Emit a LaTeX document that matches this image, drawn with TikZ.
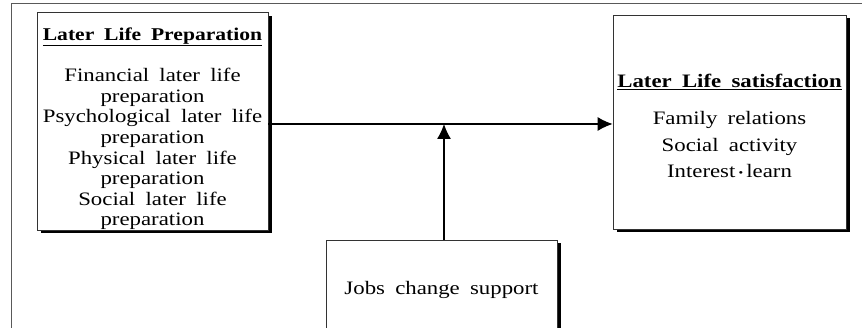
\documentclass[tikz,border=0pt]{standalone}
\usepackage{fontspec}
\setmainfont{Liberation Serif}[FakeStretch=1.2, WordSpace=1.8]
\usetikzlibrary{arrows.meta, shadows, positioning}

\begin{document}
\begin{tikzpicture}[
  x=1pt, y=-1pt,
  framebox/.style={draw=black!80, line width=0.8pt, fill=white, align=center, inner sep=0pt,
    drop shadow={shadow xshift=3.5pt, shadow yshift=-3.5pt, opacity=1, fill=black}},
  link/.style={line width=1.1pt, -{Latex[length=15pt, width=14pt]}}
]
\useasboundingbox (0,0) rectangle (862,328);
% outer frame
\draw[black!65, line width=0.9pt] (862,3) -- (11,3) -- (11,340);

\node[framebox, minimum width=231pt, minimum height=214pt,
  font=\fontsize{19}{20.6}\selectfont] (prep) at (152.5,121)
  {\rule{0pt}{28pt}{\fontsize{18}{20.6}\selectfont\underline{\textbf{Later Life Preparation}}}\\[21pt]
   Financial later life\\ preparation\\ Psychological later life\\ preparation\\
   Physical later life\\ preparation\\ Social later life\\ preparation};
\node[framebox, minimum width=233pt, minimum height=214pt,
  font=\fontsize{19}{26.5}\selectfont] (satis) at (729.5,122)
  {\rule{0pt}{22pt}{\fontsize{19}{26.5}\selectfont\underline{\textbf{Later Life satisfaction}}}\\[10.5pt]
   Family relations\\ Social activity\\ Interest\,{\fontsize{11}{11}\selectfont\raisebox{1.5pt}{•}}\,learn};
\node[framebox, minimum width=231pt, minimum height=100pt,
  font=\fontsize{19}{22}\selectfont] (jobs) at (441.5,290) {Jobs change support};

\coordinate (mid) at (444,124);
\draw[link] (prep.east |- mid) -- (satis.west |- mid);
\draw[link] (jobs.north -| mid) -- (mid);
\end{tikzpicture}
\end{document}
